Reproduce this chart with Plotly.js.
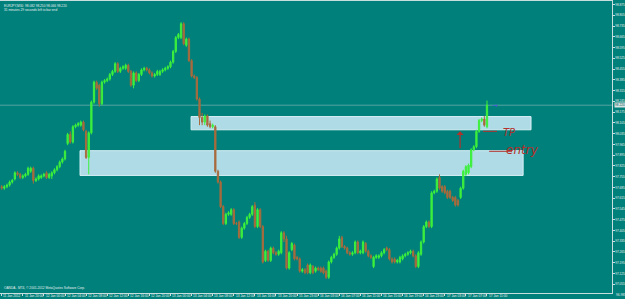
<!DOCTYPE html>
<html>
<head>
<meta charset="utf-8">
<script src="https://cdn.plot.ly/plotly-3.0.1.min.js"></script>
<style>html,body{margin:0;padding:0;background:#00807a;}#chart{width:625px;height:299px;}</style>
</head>
<body>
<div id="chart"></div>
<script>
// ---- data (EURJPY, 30-minute bars) ----
const openP = [97.69,97.68,97.69,97.70,97.72,97.74,97.78,97.77,97.75,97.76,97.77,97.79,97.81,97.73,97.74,97.75,97.76,97.78,97.75,97.76,
97.78,97.80,97.82,97.85,97.87,97.97,98.03,97.98,98.08,98.09,98.09,98.11,98.05,97.88,98.04,98.24,98.37,98.35,98.23,98.37,
98.38,98.39,98.42,98.44,98.49,98.44,98.46,98.46,98.48,98.44,98.35,98.43,98.38,98.42,98.45,98.46,98.45,98.43,98.41,98.42,
98.42,98.44,98.45,98.46,98.47,98.50,98.57,98.66,98.66,98.75,98.61,98.65,98.51,98.41,98.40,98.26,98.14,98.11,98.15,98.10,
98.08,98.08,97.79,97.72,97.56,97.45,97.51,97.51,97.54,97.45,97.46,97.36,97.42,97.45,97.49,97.51,97.57,97.43,97.54,97.43,
97.21,97.27,97.21,97.29,97.26,97.25,97.26,97.39,97.35,97.16,97.28,97.31,97.23,97.22,97.14,97.15,97.18,97.13,97.17,97.14,
97.16,97.16,97.16,97.14,97.10,97.20,97.23,97.25,97.29,97.36,97.30,97.29,97.26,97.25,97.26,97.33,97.26,97.26,97.32,97.27,
97.24,97.17,97.23,97.23,97.24,97.26,97.29,97.28,97.22,97.22,97.20,97.20,97.22,97.24,97.25,97.26,97.27,97.24,97.17,97.25,
97.33,97.43,97.46,97.43,97.65,97.66,97.75,97.69,97.69,97.66,97.66,97.62,97.62,97.60,97.62,97.68,97.77,97.78,97.82,97.93,
97.95,98.05,98.12,98.13,98.08];
const highP = [97.70,97.70,97.71,97.73,97.74,97.79,97.79,97.78,97.77,97.78,97.82,97.82,97.82,97.75,97.77,97.77,97.78,97.79,97.78,97.79,
97.81,97.83,97.86,97.88,97.93,98.04,98.05,98.09,98.10,98.11,98.12,98.12,98.06,98.05,98.25,98.38,98.38,98.36,98.38,98.39,
98.40,98.43,98.45,98.50,98.50,98.47,98.48,98.49,98.49,98.45,98.44,98.44,98.43,98.46,98.47,98.47,98.46,98.44,98.43,98.45,
98.45,98.46,98.47,98.48,98.51,98.58,98.67,98.69,98.76,98.76,98.66,98.66,98.52,98.42,98.41,98.27,98.17,98.16,98.16,98.12,
98.10,98.09,97.80,97.73,97.57,97.52,97.53,97.55,97.55,97.46,97.47,97.43,97.46,97.50,97.52,97.57,97.59,97.55,97.55,97.44,
97.28,97.28,97.30,97.30,97.27,97.28,97.40,97.40,97.37,97.27,97.33,97.32,97.24,97.23,97.16,97.16,97.19,97.19,97.18,97.17,
97.17,97.17,97.17,97.15,97.21,97.24,97.26,97.30,97.37,97.37,97.31,97.30,97.27,97.27,97.34,97.34,97.28,97.34,97.33,97.28,
97.25,97.24,97.25,97.25,97.27,97.29,97.30,97.29,97.23,97.23,97.22,97.24,97.25,97.26,97.27,97.28,97.28,97.25,97.27,97.34,
97.44,97.47,97.47,97.66,97.67,97.75,97.77,97.70,97.70,97.67,97.67,97.63,97.63,97.61,97.69,97.80,97.83,97.84,97.94,97.96,
98.06,98.13,98.14,98.15,98.25];
const lowP = [97.67,97.67,97.68,97.69,97.71,97.73,97.76,97.74,97.74,97.75,97.76,97.78,97.71,97.72,97.73,97.74,97.75,97.74,97.74,97.74,
97.77,97.79,97.81,97.84,97.86,97.96,97.97,97.97,98.07,98.08,98.08,98.05,97.87,97.77,98.03,98.23,98.32,98.21,98.22,98.36,
98.37,98.38,98.41,98.43,98.43,98.43,98.45,98.45,98.43,98.34,98.33,98.37,98.37,98.41,98.44,98.44,98.42,98.40,98.40,98.41,
98.41,98.43,98.44,98.45,98.46,98.49,98.56,98.65,98.65,98.61,98.60,98.50,98.40,98.39,98.25,98.09,98.09,98.09,98.08,98.07,
98.07,97.78,97.71,97.55,97.44,97.44,97.50,97.50,97.44,97.44,97.35,97.35,97.41,97.44,97.48,97.50,97.42,97.42,97.42,97.19,
97.20,97.20,97.20,97.25,97.24,97.24,97.25,97.33,97.15,97.15,97.27,97.21,97.21,97.13,97.13,97.12,97.12,97.12,97.12,97.13,
97.14,97.13,97.12,97.09,97.09,97.19,97.22,97.24,97.28,97.29,97.28,97.25,97.24,97.24,97.25,97.25,97.25,97.25,97.26,97.23,
97.22,97.16,97.22,97.22,97.23,97.25,97.27,97.21,97.19,97.19,97.19,97.19,97.21,97.23,97.24,97.25,97.23,97.16,97.16,97.24,
97.32,97.42,97.42,97.42,97.64,97.65,97.67,97.65,97.64,97.61,97.61,97.59,97.56,97.56,97.61,97.67,97.76,97.77,97.81,97.92,
97.94,98.04,98.11,98.08,98.07];
const closeP = [97.68,97.69,97.70,97.72,97.73,97.78,97.77,97.75,97.76,97.77,97.81,97.81,97.73,97.74,97.76,97.76,97.77,97.75,97.77,97.78,
97.80,97.82,97.85,97.87,97.92,98.03,97.98,98.08,98.09,98.10,98.11,98.06,97.88,98.04,98.24,98.37,98.33,98.23,98.37,98.38,
98.39,98.42,98.44,98.49,98.44,98.46,98.47,98.48,98.44,98.35,98.43,98.38,98.42,98.45,98.46,98.45,98.43,98.41,98.42,98.44,
98.44,98.45,98.46,98.47,98.50,98.57,98.66,98.68,98.75,98.62,98.65,98.51,98.41,98.40,98.26,98.14,98.11,98.15,98.09,98.08,
98.09,97.79,97.72,97.56,97.45,97.51,97.52,97.54,97.45,97.45,97.36,97.42,97.45,97.49,97.51,97.56,97.43,97.54,97.43,97.20,
97.27,97.21,97.29,97.26,97.25,97.27,97.39,97.35,97.16,97.26,97.32,97.22,97.22,97.14,97.15,97.13,97.13,97.18,97.13,97.16,
97.15,97.14,97.13,97.10,97.20,97.23,97.25,97.29,97.35,97.30,97.29,97.26,97.25,97.26,97.33,97.26,97.27,97.33,97.27,97.24,
97.23,97.23,97.24,97.24,97.26,97.28,97.28,97.22,97.20,97.20,97.21,97.23,97.24,97.25,97.26,97.27,97.24,97.17,97.26,97.33,
97.43,97.46,97.43,97.65,97.66,97.74,97.68,97.66,97.65,97.62,97.62,97.60,97.57,97.57,97.68,97.79,97.82,97.83,97.93,97.95,
98.05,98.12,98.13,98.09,98.22];

const timeLabels = ["11 Jan 2012","11 Jan 20:00","12 Jan 00:00","12 Jan 04:00","12 Jan 08:00","12 Jan 12:00","12 Jan 16:00","12 Jan 20:00",
"13 Jan 00:00","13 Jan 04:00","13 Jan 08:00","13 Jan 12:00","13 Jan 16:00","13 Jan 20:00","15 Jan 23:00","16 Jan 03:00",
"16 Jan 07:00","16 Jan 11:00","16 Jan 15:00","16 Jan 19:00","16 Jan 23:00","17 Jan 03:00","17 Jan 07:00","17 Jan 11:00"];
const barsPerLabel = 8;
const priceTicks = [97.055,97.125,97.195,97.265,97.335,97.405,97.475,97.545,97.615,97.685,97.755,97.825,97.895,97.965,
98.035,98.105,98.175,98.245,98.315,98.385,98.455,98.525,98.595,98.665,98.735,98.805,98.875];
const bottomPriceLabel = "96.985";
const headerLine1 = "EURJPY,M30  98.082 98.250 98.066 98.220";
const headerLine2 = "31 minutes 29 seconds left to bar end";
const footer = "OANDA - MT4, \u00a9 2001-2012 MetaQuotes Software Corp.";
const zones = [{x0:71.8, x1:200.7, y0:98.060, y1:98.146}, {x0:29.7, x1:197.7, y0:97.763, y1:97.924}];

// ---- build ----
const idx = closeP.map((_, i) => i);
const lastClose = closeP[closeP.length - 1];
const txt = '#e8f0f0';
const tf = {family: 'Liberation Sans, Arial, sans-serif', size: 3.2, color: txt};
const tickPos = timeLabels.map((_, k) => k * barsPerLabel);

const trace = {
  type: 'candlestick', x: idx, open: openP, high: highP, low: lowP, close: closeP,
  increasing: {line: {color: '#3cf03c', width: 1}, fillcolor: '#3cf03c'},
  decreasing: {line: {color: '#a86b3d', width: 1}, fillcolor: '#a86b3d'},
  hoverinfo: 'skip', showlegend: false
};

const shapes = zones.map(z => ({type:'rect', xref:'x', yref:'y', x0:z.x0, x1:z.x1, y0:z.y0, y1:z.y1,
  fillcolor:'#aedbe6', line:{color:'#d9f0f6', width:1}, layer:'below'}));
shapes.push({type:'line', xref:'paper', yref:'y', x0:0, x1:1, y0:lastClose, y1:lastClose,
  line:{color:'rgba(190,210,210,0.45)', width:1}, layer:'below'});
// hand-drawn marks
shapes.push({type:'line', xref:'x', yref:'y', x0:182.5, x1:187.8, y0:98.05, y1:98.05, line:{color:'#b3302b', width:1}});
shapes.push({type:'line', xref:'x', yref:'y', x0:184.8, x1:193.5, y0:97.92, y1:97.92, line:{color:'#b3302b', width:1}});

const annotations = [
  {xref:'paper', yref:'paper', x:0.004, y:0.998, xanchor:'left', yanchor:'top', text:headerLine1, showarrow:false, font:tf},
  {xref:'paper', yref:'paper', x:0.004, y:0.984, xanchor:'left', yanchor:'top', text:headerLine2, showarrow:false, font:tf},
  {xref:'paper', yref:'paper', x:0.004, y:0.004, xanchor:'left', yanchor:'bottom', text:footer, showarrow:false, font:tf},
  {xref:'paper', yref:'paper', x:1.004, y:-0.008, xanchor:'left', yanchor:'middle', text:bottomPriceLabel, showarrow:false, font:tf},
  {xref:'paper', yref:'y', x:1.003, y:lastClose, xanchor:'left', yanchor:'middle', text:lastClose.toFixed(3), showarrow:false,
   bgcolor:'#d8e4e4', borderpad:0, font:{family:tf.family, size:3.2, color:'#005a55'}},
  {xref:'x', yref:'y', x:173.8, y:98.05, ax:173.8, ay:97.93, axref:'x', ayref:'y', text:'', showarrow:true,
   arrowhead:1, arrowsize:1, arrowwidth:1.2, arrowcolor:'#b3302b'},
  {xref:'x', yref:'y', x:192.5, y:98.045, text:'<i>TP</i>', showarrow:false,
   font:{family:'DejaVu Sans, sans-serif', size:10, color:'#b3302b'}},
  {xref:'x', yref:'y', x:197.5, y:97.93, text:'<i>entry</i>', showarrow:false,
   font:{family:'DejaVu Sans, sans-serif', size:12, color:'#b3302b'}},
  {xref:'x', yref:'y', x:187, y:98.215, text:'\u2192', showarrow:false,
   font:{family:'DejaVu Sans, sans-serif', size:7, color:'#5050e0'}}
];
timeLabels.forEach((t, k) => annotations.push({xref:'x', yref:'paper', x:tickPos[k] + 0.3, y:-0.001,
  xanchor:'left', yanchor:'top', text:t, showarrow:false, font:tf, borderpad:0}));

const layout = {
  width: 625, height: 299,
  margin: {l: 0, r: 13, t: 1, b: 6, pad: 0},
  paper_bgcolor: '#00807a', plot_bgcolor: '#00807a',
  showlegend: false,
  xaxis: {type:'linear', range:[-0.645, 231.4], rangeslider:{visible:false},
    tickvals: tickPos, showticklabels:false, ticks:'outside', ticklen:1.5, tickcolor:'#c8dede', tickwidth:1,
    showgrid:false, zeroline:false, showline:true, linecolor:'#c8dede', linewidth:1, mirror:true, fixedrange:true},
  yaxis: {side:'right', range:[96.998, 98.898], tickvals: priceTicks, ticktext: priceTicks.map(v => v.toFixed(3)),
    ticks:'outside', ticklen:1.5, tickcolor:'#c8dede', tickfont: tf, showgrid:false, zeroline:false,
    showline:true, linecolor:'#c8dede', linewidth:1, mirror:true, fixedrange:true},
  shapes: shapes,
  annotations: annotations
};

Plotly.newPlot('chart', [trace], layout, {staticPlot:true, displayModeBar:false});
</script>
</body>
</html>
